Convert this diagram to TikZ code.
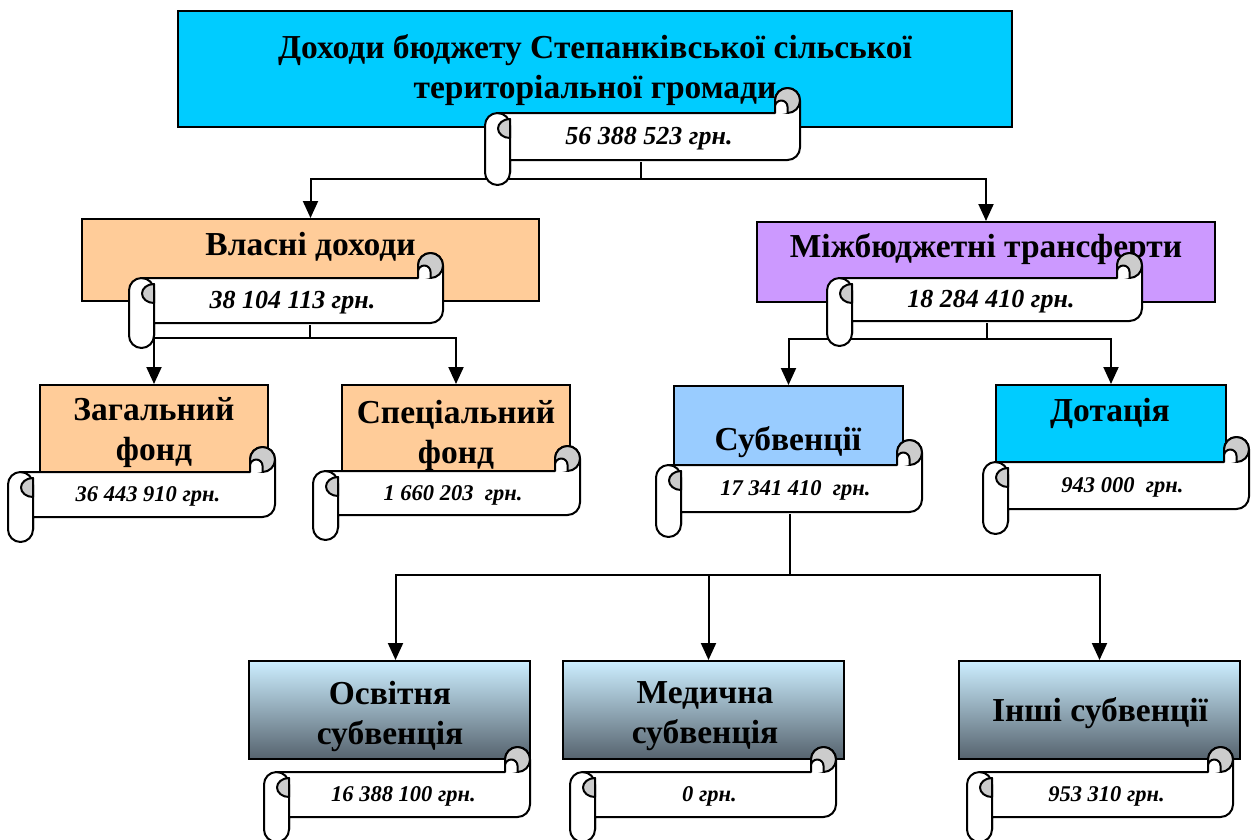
\documentclass[tikz,border=0pt]{standalone}
\usepackage{fontspec}
\setmainfont{Liberation Serif}
\usetikzlibrary{arrows.meta}

\definecolor{skyfill}{HTML}{00CCFF}
\definecolor{peachfill}{HTML}{FFCC99}
\definecolor{lilacfill}{HTML}{CC99FF}
\definecolor{bluefill}{HTML}{99CCFF}
\definecolor{curlgray}{HTML}{CCCCCC}
\definecolor{gradtop}{HTML}{CCEEFF}
\definecolor{gradmid}{HTML}{9AB4C4}
\definecolor{gradbot}{HTML}{56636E}

\tikzset{
  box/.style={draw=black, line width=2pt, inner sep=0pt},
  grad/.style={box, top color=gradtop, middle color=gradmid, bottom color=gradbot},
  title/.style={font=\fontsize{33.5}{40}\selectfont\bfseries, align=center, inner sep=0pt},
  amount/.style={font=\fontsize{26}{30}\selectfont\bfseries\itshape, inner sep=0pt},
  amountsm/.style={font=\fontsize{22.5}{27}\selectfont\bfseries\itshape, inner sep=0pt},
  link/.style={line width=2pt},
  arr/.style={link, -{Triangle[length=17pt,width=15pt]}},
  scrollline/.style={line width=2pt, line join=round},
}

% scroll: [text style] name, left, top, right, bottom, amount
\newcommand{\scrollbox}[7][amount]{%
  \filldraw[scrollline, fill=white] (#3,#4+37.5) arc[start angle=180,end angle=270,radius=12.5]
    -- (#5-25,#4+25) -- (#5-25,#4+12.5) arc[start angle=180,end angle=360,radius=12.5]
    -- (#5,#6-37.5) arc[start angle=0,end angle=90,radius=12.5]
    -- (#3+25,#6-25) -- (#3+25,#6-12.5) arc[start angle=0,end angle=180,radius=12.5] -- cycle;
  \filldraw[scrollline, fill=curlgray] (#5-12.5,#4+12.5) circle[radius=12.5];
  \filldraw[scrollline, fill=white] (#5-25,#4+25) -- (#5-25,#4+18.75)
    arc[start angle=180,end angle=360,radius=6.25] -- (#5-12.5,#4+25);
  \draw[scrollline] (#3+12.5,#4+25) arc[start angle=270,end angle=360,radius=12.5] -- (#3+25,#6-12.5);
  \filldraw[scrollline, fill=curlgray] (#3+25,#4+31) arc[start angle=270,end angle=90,x radius=12,y radius=9.5] -- cycle;
  \node[#1, minimum width=#5-#3-25, minimum height=#6-#4-50] (#2) at ({(#3+#5)/2+6.5},{(#4+#6)/2+2}) {#7};
}

\begin{document}
\begin{tikzpicture}[x=1pt,y=-1pt]
\useasboundingbox (0,0) rectangle (1257,839);
\clip (0,0) rectangle (1257,839);

% boxes
\node[box, fill=skyfill, minimum width=834, minimum height=116] (dohody) at (595,69) {};
\node[title] (dohodyt) at (595,70) {Доходи бюджету Степанківської сільської\\територіальної громади};
\node[box, fill=peachfill, minimum width=457, minimum height=82] (vlasni) at (310.5,260) {};
\node[title] (vlasnit) at (310.5,247) {Власні доходи};
\node[box, fill=lilacfill, minimum width=458, minimum height=80] (mizh) at (986,262) {};
\node[title] (mizht) at (986,249) {Міжбюджетні трансферти};
\node[box, fill=peachfill, minimum width=228, minimum height=95] (zag) at (154,432.5) {};
\node[title] (zagt) at (154,433) {Загальний\\фонд};
\node[box, fill=peachfill, minimum width=228, minimum height=95] (spec) at (456,432.5) {};
\node[title] (spect) at (456,435) {Спеціальний\\фонд};
\node[box, fill=bluefill, minimum width=229, minimum height=94] (subv) at (788.5,433) {};
\node[title] (subvt) at (788,442) {Субвенції};
\node[box, fill=skyfill, minimum width=230, minimum height=85] (dot) at (1111,427.5) {};
\node[title] (dott) at (1110,413) {Дотація};
\node[grad, minimum width=281, minimum height=98] (osv) at (389.5,710) {};
\node[title] (osvt) at (390,716) {Освітня\\субвенція};
\node[grad, minimum width=281, minimum height=98] (med) at (703.5,710) {};
\node[title] (medt) at (705,716) {Медична\\субвенція};
\node[grad, minimum width=281, minimum height=98] (inshi) at (1099.5,710) {};
\node[title] (inshit) at (1100,713) {Інші субвенції};

% connectors
\coordinate (j0) at (641,179);
\coordinate (j1) at (310,338);
\coordinate (j2) at (987,339);
\coordinate (j3) at (790,575);
\draw[arr] (j0) -| (vlasni.north);
\draw[arr] (j0) -| (mizh.north);
\draw[arr] (j1) -| (zag.north);
\draw[arr] (j1) -| (spec.north);
\draw[arr] (j2) -| (subv.north);
\draw[arr] (j2) -| (dot.north);
\draw[arr] (j3) -| ([xshift=6pt]osv.north);
\draw[arr] (j3) -| ([xshift=5pt]med.north);
\draw[arr] (j3) -| (inshi.north);

% scrolls
\scrollbox{s0}{485}{88}{800}{185}{56 388 523 грн.}
\scrollbox{s1}{129}{253}{443}{348}{38 104 113 грн.}
\scrollbox{s2}{827}{253}{1142}{346}{18 284 410 грн.}
\scrollbox[amountsm]{s3}{8}{447}{275}{542}{36 443 910 грн.}
\scrollbox[amountsm]{s4}{313}{446}{580}{540}{1 660 203 \ грн.}
\scrollbox[amountsm]{s5}{656}{440}{922}{537}{17 341 410 \ грн.}
\scrollbox[amountsm]{s6}{983}{437}{1249}{534}{943 000 \ грн.}
\scrollbox[amountsm]{s7}{264}{747}{530}{842}{16 388 100 грн.}
\scrollbox[amountsm]{s8}{570}{747}{836}{842}{0 грн.}
\scrollbox[amountsm]{s9}{967}{747}{1233}{842}{953 310 грн.}

\draw[link] (s0.south -| j0) -- (j0);
\draw[link] (s1.south -| j1) -- (j1);
\draw[link] (s2.south -| j2) -- (j2);
\draw[link] (s5.south -| j3) -- (j3);
\end{tikzpicture}
\end{document}
